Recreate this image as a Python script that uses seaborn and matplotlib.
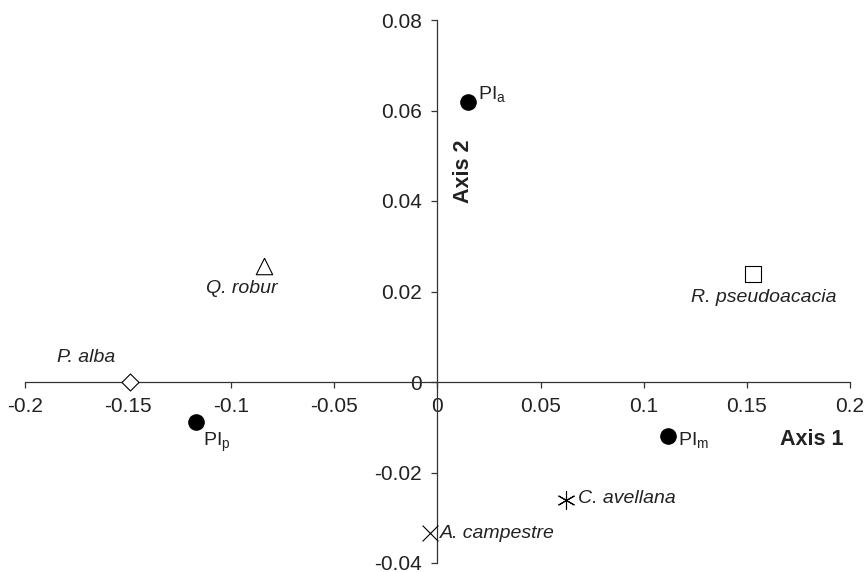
import matplotlib
matplotlib.use("Agg")
import matplotlib.pyplot as plt
import seaborn as sns
from matplotlib.ticker import FuncFormatter

# ordination scores
names = ["PI_a", "Q. robur", "R. pseudoacacia", "P. alba", "PI_p", "PI_m", "C. avellana", "A. campestre"]
axis1 = [0.015, -0.084, 0.153, -0.149, -0.117, 0.112, 0.0625, -0.0034]
axis2 = [0.0619, 0.0256, 0.0239, 0.0, -0.0088, -0.0119, -0.026, -0.0334]
xticks = [-0.2, -0.15, -0.1, -0.05, 0, 0.05, 0.1, 0.15, 0.2]
yticks = [-0.04, -0.02, 0, 0.02, 0.04, 0.06, 0.08]

sns.set_theme(style="white")
plt.rcParams["font.family"] = ["Liberation Sans", "DejaVu Sans"]
plt.rcParams["mathtext.fontset"] = "custom"
plt.rcParams["mathtext.rm"] = "Liberation Sans"
plt.rcParams["mathtext.it"] = "Liberation Sans:italic"
plt.rcParams["axes.unicode_minus"] = False

# marker style per point
styles = {
    "PI_a": dict(marker="o", s=170, color="black"),
    "PI_p": dict(marker="o", s=170, color="black"),
    "PI_m": dict(marker="o", s=170, color="black"),
    "Q. robur": dict(marker="^", s=140, facecolor="white", edgecolor="black", linewidth=0.8),
    "R. pseudoacacia": dict(marker="s", s=140, facecolor="white", edgecolor="black", linewidth=0.8),
    "P. alba": dict(marker="D", s=75, facecolor="white", edgecolor="black", linewidth=0.8),
    "C. avellana": dict(marker=(6, 2, 0), s=160, color="black", linewidth=0.8),
    "A. campestre": dict(marker="x", s=130, color="black", linewidth=0.8),
}
# label text, offset (pt), alignment
labels = {
    "PI_a": (r"PI$_{\mathrm{a}}$", (7, 6), "left"),
    "Q. robur": ("Q. robur", (-16, -16), "center"),
    "R. pseudoacacia": ("R. pseudoacacia", (8, -17), "center"),
    "P. alba": ("P. alba", (-32, 18), "center"),
    "PI_p": (r"PI$_{\mathrm{p}}$", (5, -15), "left"),
    "PI_m": (r"PI$_{\mathrm{m}}$", (7, -3), "left"),
    "C. avellana": ("C. avellana", (8, 1), "left"),
    "A. campestre": ("A. campestre", (7, 0), "left"),
}

fig = plt.figure(figsize=(8.66, 5.72), dpi=100)
ax = fig.add_axes([25 / 866, 1 - 563 / 572, 825 / 866, 543 / 572])

for n, x, y in zip(names, axis1, axis2):
    sns.scatterplot(x=[x], y=[y], ax=ax, zorder=3, **styles[n])
    txt, off, ha = labels[n]
    italic = not n.startswith("PI")
    ax.annotate(txt, (x, y), xytext=off, textcoords="offset points",
                ha=ha, va="center", fontsize=14,
                fontstyle="italic" if italic else "normal", color="#222222")

ax.set_xlim(-0.2, 0.2)
ax.set_ylim(-0.04, 0.08)
ax.set_xticks(xticks)
ax.set_yticks(yticks)
fmt = FuncFormatter(lambda v, p: "%g" % round(v, 3))
ax.xaxis.set_major_formatter(fmt)
ax.yaxis.set_major_formatter(fmt)

for side in ["top", "right"]:
    ax.spines[side].set_visible(False)
ax.spines["left"].set_position(("data", 0))
ax.spines["bottom"].set_position(("data", 0))
for side in ["left", "bottom"]:
    ax.spines[side].set_color("#333333")
    ax.spines[side].set_linewidth(0.9)
ax.tick_params(axis="both", direction="out", length=4, width=0.9, color="#333333",
               labelsize=15, labelcolor="#222222")
ax.tick_params(axis="x", bottom=True, pad=7)
ax.tick_params(axis="y", left=True, pad=7)
ax.set_xlabel("")
ax.set_ylabel("")

ax.text(0.0128, 0.0466, "Axis 2", rotation=90, ha="center", va="center",
        fontsize=15.5, fontweight="bold", color="#222222")
ax.text(0.1816, -0.0128, "Axis 1", ha="center", va="center",
        fontsize=15.5, fontweight="bold", color="#222222")

fig.savefig("out.png", dpi=100)
